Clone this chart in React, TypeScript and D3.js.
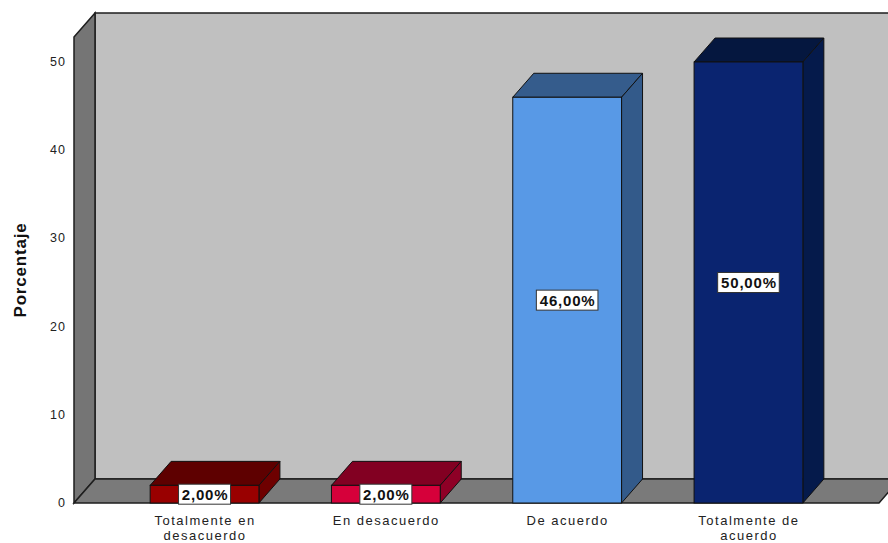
import * as d3 from "d3";

const categories = ["Totalmente en desacuerdo", "En desacuerdo", "De acuerdo", "Totalmente de acuerdo"];
const labelLines = [["Totalmente en", "desacuerdo"], ["En desacuerdo"], ["De acuerdo"], ["Totalmente de", "acuerdo"]];
const values = [2, 2, 46, 50];
const valueLabels = ["2,00%", "2,00%", "46,00%", "50,00%"];
const yTicks = [0, 10, 20, 30, 40, 50];

// front / top / side shades per bar
const frontColors = ["#990000", "#d6003a", "#5899e6", "#0a2470"];
const topColors = ["#5e0000", "#820022", "#355c8c", "#05173f"];
const sideColors = ["#6e0000", "#8e0026", "#335a8a", "#051a4b"];

const W = 888;
const H = 543;
const dx = 21;
const dy = -24;
const left = 74;
const right = 879;
const bottom = 503;
const top = 37;
const font = "'Liberation Sans', Arial, sans-serif";

const App = () => {
  const x = d3.scaleBand<string>().domain(categories).range([left, right]).paddingInner(0.4).paddingOuter(0.42);
  const y = d3.scaleLinear().domain([0, 50]).range([bottom, 62]);

  const pts = (p: number[][]) => p.map((d) => d.join(",")).join(" ");

  return (
    <svg width={W} height={H} style={{ position: "absolute", left: 0, top: 0 }}>
      <rect width={W} height={H} fill="#fff" />
      {/* back wall */}
      <polygon
        points={pts([[left + dx, top + dy], [right + dx + 20, top + dy], [right + dx + 20, bottom + dy], [left + dx, bottom + dy]])}
        fill="#c0c0c0"
        stroke="#1e1e1e"
        strokeWidth={1.5}
      />
      {/* left wall */}
      <polygon
        points={pts([[left, top], [left + dx, top + dy], [left + dx, bottom + dy], [left, bottom]])}
        fill="#757575"
        stroke="#1e1e1e"
        strokeWidth={1.5}
      />
      {/* floor */}
      <polygon
        points={pts([[left, bottom], [left + dx, bottom + dy], [right + dx, bottom + dy], [right, bottom]])}
        fill="#7a7a7a"
        stroke="#1e1e1e"
        strokeWidth={1.5}
      />
      {yTicks.map((t) => (
        <text key={t} x={66} y={y(t) + 4} textAnchor="end" fontSize={12.5} letterSpacing={1} fontFamily={font} fill="#222">
          {t}
        </text>
      ))}
      <text
        transform={`translate(26,${(top + bottom) / 2}) rotate(-90)`}
        textAnchor="middle"
        fontSize={17}
        letterSpacing={0.8}
        fontWeight="bold"
        fontFamily={font}
        fill="#111"
      >
        Porcentaje
      </text>
      {categories.map((c, i) => {
        const x0 = x(c) as number;
        const x1 = x0 + x.bandwidth();
        const yt = y(values[i]);
        return (
          <g key={c}>
            <polygon
              points={pts([[x0, yt], [x0 + dx, yt + dy], [x1 + dx, yt + dy], [x1, yt]])}
              fill={topColors[i]}
              stroke="#111"
              strokeWidth={1}
            />
            <polygon
              points={pts([[x1, yt], [x1 + dx, yt + dy], [x1 + dx, bottom + dy], [x1, bottom]])}
              fill={sideColors[i]}
              stroke="#111"
              strokeWidth={1}
            />
            <rect x={x0} y={yt} width={x1 - x0} height={bottom - yt} fill={frontColors[i]} stroke="#111" strokeWidth={1} />
          </g>
        );
      })}
      {categories.map((c, i) => {
        const cx = (x(c) as number) + x.bandwidth() / 2;
        const cy = (y(values[i]) + bottom) / 2;
        const w = valueLabels[i].length * 9.6 + 4;
        return (
          <g key={c + "lab"}>
            <rect x={cx - w / 2} y={cy - 10} width={w} height={20} fill="#fff" stroke="#333" strokeWidth={1} />
            <text x={cx + 0.5} y={cy + 5.5} textAnchor="middle" fontSize={15} letterSpacing={0.8} fontWeight="bold" fontFamily={font} fill="#111">
              {valueLabels[i]}
            </text>
          </g>
        );
      })}
      {categories.map((c, i) => {
        const cx = (x(c) as number) + x.bandwidth() / 2;
        return labelLines[i].map((ln, j) => (
          <text key={c + j} x={cx + 0.5} y={525 + j * 15} textAnchor="middle" fontSize={13} letterSpacing={1.5} fontFamily={font} fill="#222">
            {ln}
          </text>
        ));
      })}
    </svg>
  );
};

export default App;
